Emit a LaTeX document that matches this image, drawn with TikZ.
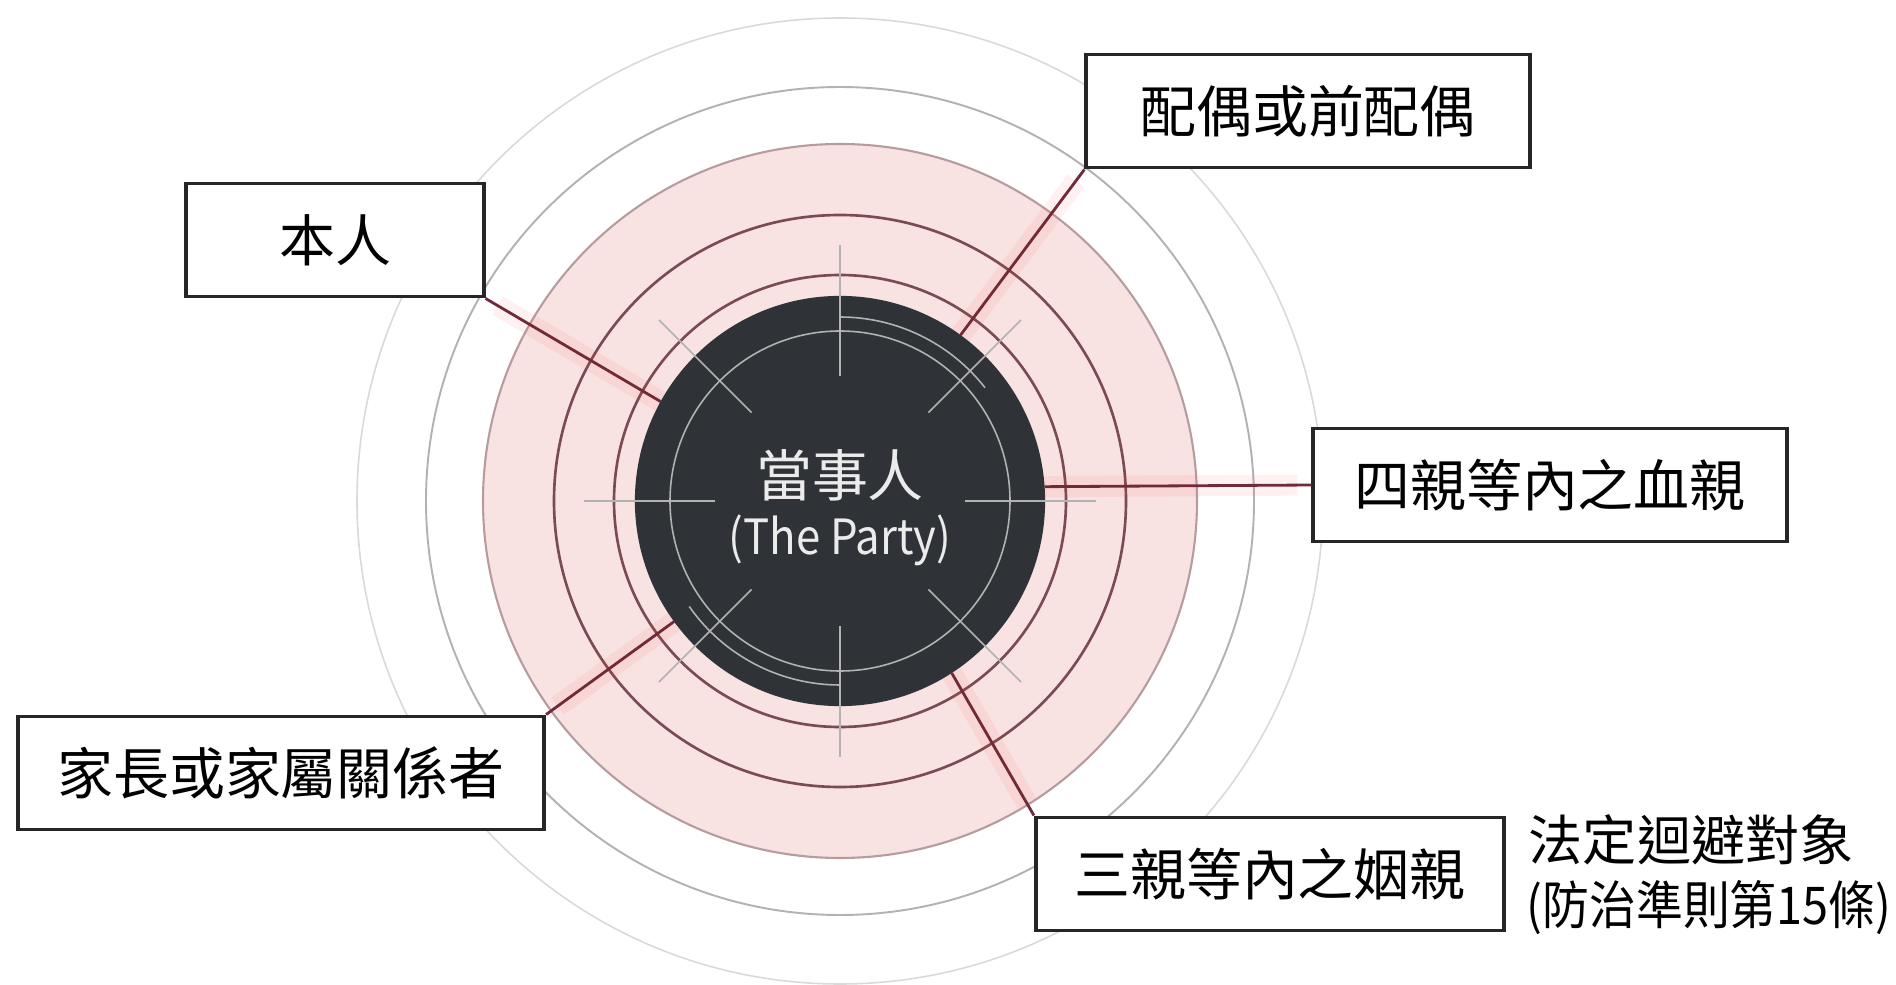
\documentclass[tikz,border=0pt]{standalone}
\usepackage{fontspec}
\newfontfamily\cjk{Noto Sans CJK TC}
\newfontfamily\cjkn[FakeStretch=0.9]{Noto Sans CJK TC}
\definecolor{oscuro}{HTML}{2F3338}
\definecolor{rosa}{HTML}{F8E2E2}
\definecolor{vino}{HTML}{72293A}
\definecolor{anillo}{HTML}{7A4B50}
\tikzset{
  caja/.style={draw=black!85, line width=1.1pt, fill=white, minimum height=1.13cm, inner sep=0pt, font=\cjk\fontsize{15.9pt}{19pt}\selectfont},
  enlace/.style={draw=vino, line width=0.8pt},
  halo/.style={draw=red!70, line width=6pt, opacity=0.08, shorten >=4pt},
  mira/.style={draw=gray!60, line width=0.45pt},
  nota/.style={anchor=west, inner sep=0pt, font=\cjk\fontsize{15.4pt}{18pt}\selectfont},
}
\begin{document}
\begin{tikzpicture}[x=0.01cm, y=0.01cm]
  \useasboundingbox (0,0) rectangle (1896,-985);

  % Anillos
  \begin{scope}[shift={(840,-501)}]
    \fill[rosa] (0,0) circle[radius=357];
    \draw[gray!30, line width=0.45pt] (0,0) circle[radius=483];
    \draw[gray!60, line width=0.55pt] (0,0) circle[radius=414];
    \draw[anillo!55, line width=0.6pt] (0,0) circle[radius=357];
    \draw[anillo, line width=0.75pt] (0,0) circle[radius=286];
    \draw[anillo, line width=0.75pt] (0,0) circle[radius=226];

    % Centro
    \node[circle, fill=oscuro, minimum size=4.1cm, inner sep=0pt, outer sep=0pt] (party) at (0,0) {};
    \draw[mira] (0,0) circle[radius=170];
    \draw[mira] (90:184) arc[start angle=90, end angle=38, radius=184];
    \draw[mira] (270:184) arc[start angle=270, end angle=215, radius=184];
    \foreach \a in {0,45,...,315}
      \draw[mira] (\a:125) -- (\a:256);
  \end{scope}

  \node[text=white!92!black, font=\cjk\fontsize{15.9pt}{19pt}\selectfont] (titulo) at (840,-475) {當事人};
  \node[text=white!92!black, font=\cjkn\fontsize{13.8pt}{16pt}\selectfont] (ingles) at (840,-540) {(The Party)};

  % Cajas
  \node[caja, minimum width=2.97cm] (benren) at (335,-240) {本人};
  \node[caja, minimum width=4.43cm] (peiou) at (1308,-111) {配偶或前配偶};
  \node[caja, minimum width=4.73cm] (xueqin) at (1550,-485) {四親等內之血親};
  \node[caja, minimum width=5.26cm] (jiazhang) at (281,-773) {家長或家屬關係者};
  \node[caja, minimum width=4.68cm] (yinqin) at (1270,-874) {三親等內之姻親};

  % Enlaces
  \draw[halo] (party.151) -- (benren.south east);
  \draw[halo] (party.54) -- (peiou.south west);
  \draw[halo] (party.4) -- (xueqin.west);
  \draw[halo] (party.216) -- (jiazhang.north east);
  \draw[halo] (party.303) -- (yinqin.north west);
  \draw[enlace] (benren.south east) -- (party.151);
  \draw[enlace] (peiou.south west) -- (party.54);
  \draw[enlace] (xueqin.west) -- (party.4);
  \draw[enlace] (jiazhang.north east) -- (party.216);
  \draw[enlace] (yinqin.north west) -- (party.303);

  % Nota
  \node[nota] (regla) at (1528,-840) {法定迴避對象};
  \node[nota, font=\cjkn\fontsize{14.8pt}{17pt}\selectfont] (articulo) at (1526,-908) {(防治準則第15條)};
\end{tikzpicture}
\end{document}
